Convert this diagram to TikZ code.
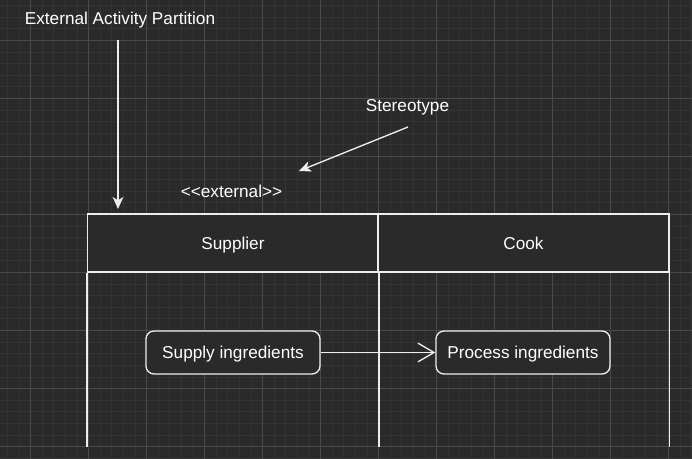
\documentclass[tikz,border=0pt]{standalone}
\usepackage{fontspec}
\setmainfont{Liberation Sans}
\usepackage{xcolor}
\usetikzlibrary{positioning,calc,arrows.meta}

\definecolor{bgdark}{HTML}{2A2A2A}
\definecolor{gridminor}{HTML}{343434}
\definecolor{gridmajor}{HTML}{4A4A4A}
\definecolor{strokelight}{HTML}{EEEEEE}

\tikzset{
    label text/.style={text=white, font=\fontsize{12.9pt}{15pt}\selectfont, inner sep=0pt, text height=9.2pt, text depth=0pt},
    lanehead/.style={draw=strokelight, fill=bgdark, line width=1pt, minimum width=218pt, minimum height=43.5pt, text=white, font=\fontsize{12.9pt}{15pt}\selectfont, text height=9.2pt, text depth=0pt},
    action/.style={draw=strokelight, fill=bgdark, line width=1pt, rounded corners=6pt, minimum width=130.5pt, minimum height=32.25pt, text=white, font=\fontsize{12.9pt}{15pt}\selectfont, text height=9.2pt, text depth=0pt},
    pointer/.style={draw=strokelight, line width=1pt, -{Stealth[length=9pt, width=8pt, inset=2.5pt]}},
    flow/.style={draw=strokelight, line width=1pt, -{Straight Barb[length=12pt, width=14pt]}}
}

\begin{document}
\begin{tikzpicture}[x=0.75pt, y=-0.75pt]
    % Canvas
    \useasboundingbox [fill=bgdark] (0,0) rectangle (692,459);
    \foreach \i in {-2,...,57}
        \draw [gridminor, line width=0.6pt] ({30.5+11.6*\i},0) -- ({30.5+11.6*\i},459);
    \foreach \j in {-3,...,36}
        \draw [gridminor, line width=0.6pt] (0,{40.5+11.6*\j}) -- (692,{40.5+11.6*\j});
    \foreach \i in {0,...,11}
        \draw [gridmajor, line width=0.6pt] ({30.5+58*\i},0) -- ({30.5+58*\i},459);
    \foreach \j in {0,...,7}
        \draw [gridmajor, line width=0.6pt] (0,{40.5+58*\j}) -- (692,{40.5+58*\j});

    % Partition (lanes)
    \node [lanehead] (supplier) at (233,243) {Supplier};
    \node [lanehead, minimum width=218.25pt] (cook) at (523.5,243) {Cook};
    \draw [strokelight, line width=1pt] (supplier.south west) -- ($(supplier.south west)+(0,174)$);
    \draw [strokelight, line width=1pt] (supplier.south east) -- ($(supplier.south east)+(0,174)$);
    \draw [strokelight, line width=1pt] (cook.south east) -- ($(cook.south east)+(0,174)$);

    % Actions
    \node [action] (supply) at (233,352.5) {Supply ingredients};
    \node [action] (process) at (523,352.5) {Process ingredients};
    \draw [flow] (supply) -- (process);

    % Annotations
    \node [label text] (extlabel) at (120,18) {External Activity Partition};
    \node [label text] (stereo) at (231.5,191) {<\kern0pt<external>\kern0pt>};
    \node [label text] (stereolabel) at (407.5,105) {Stereotype};
    \coordinate (extfrom) at (118,40);
    \coordinate (extto) at (118,209);
    \coordinate (stereofrom) at (408,127);
    \coordinate (stereoto) at (299,171);
    \draw [pointer] (extfrom) -- (extto);
    \draw [pointer] (stereofrom) -- (stereoto);
\end{tikzpicture}
\end{document}
